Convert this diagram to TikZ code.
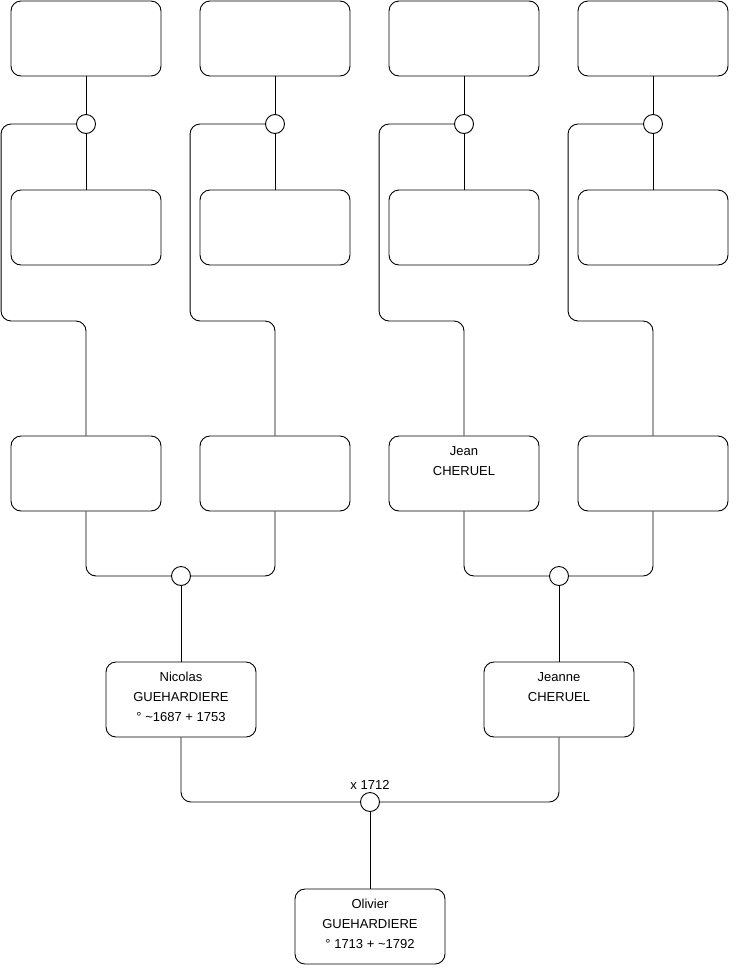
\documentclass[tikz,border=0pt]{standalone}
\usepackage{fontspec}
\setmainfont{Liberation Sans}
\usetikzlibrary{positioning}

% text lines set at the top of a person box
\newcommand{\toplines}[1]{\parbox[c][75pt][t]{146pt}{\centering\rule{0pt}{19.5pt}#1}}

\begin{document}
\begin{tikzpicture}[
    x=1pt, y=-1pt,
    person/.style={rectangle, draw, rounded corners=10pt, line width=0.9pt, minimum width=150pt, minimum height=75pt, inner sep=0pt, align=center, font=\fontsize{13}{20}\selectfont},
    union/.style={circle, draw, fill=white, line width=0.9pt, minimum size=19pt, inner sep=0pt},
    link/.style={draw, line width=0.9pt, rounded corners=10pt},
    date/.style={font=\fontsize{13}{15}\selectfont, inner sep=2pt},
]
    \useasboundingbox (0,0) rectangle (740,975);

    % Top row (great-grandparents)
    \node[person] (t1) at (86, 38.5) {};
    \node[person] (t2) at (275, 38.5) {};
    \node[person] (t3) at (464, 38.5) {};
    \node[person] (t4) at (653, 38.5) {};

    % Unions of the top couples
    \node[union] (c1) at (86, 124) {};
    \node[union] (c2) at (275, 124) {};
    \node[union] (c3) at (464, 124) {};
    \node[union] (c4) at (653, 124) {};

    % Second row
    \node[person] (s1) at (86, 227.5) {};
    \node[person] (s2) at (275, 227.5) {};
    \node[person] (s3) at (464, 227.5) {};
    \node[person] (s4) at (653, 227.5) {};

    % Third row (grandparents)
    \node[person] (r1) at (86, 473.5) {};
    \node[person] (r2) at (275, 473.5) {};
    \node[person] (r3) at (464, 473.5) {\toplines{Jean\\CHERUEL}};
    \node[person] (r4) at (653, 473.5) {};

    % Unions of the grandparents
    \node[union] (m1) at (181, 576) {};
    \node[union] (m2) at (559, 576) {};

    % Parents
    \node[person] (nicolas) at (181, 699.5) {\toplines{Nicolas\\GUEHARDIERE\\° \textasciitilde1687 + 1753}};
    \node[person] (jeanne) at (559, 699.5) {\toplines{Jeanne\\CHERUEL}};

    % Marriage and child
    \node[union, label={[date]above:x 1712}] (m3) at (370, 802) {};
    \node[person] (olivier) at (370, 926.5) {\toplines{Olivier\\GUEHARDIERE\\° 1713 + \textasciitilde1792}};

    % Top couples to their children
    \foreach \i in {1,...,4} {
        \draw[link] (t\i.south) -- (c\i.north);
        \draw[link] (c\i.south) -- (s\i.north);
        \draw[link] (c\i.west) -| ++(-75,197) -| (r\i.north);
    }

    % Grandparents to parents
    \draw[link] (r1.south) |- (m1.west);
    \draw[link] (r2.south) |- (m1.east);
    \draw[link] (m1.south) -- (nicolas.north);
    \draw[link] (r3.south) |- (m2.west);
    \draw[link] (r4.south) |- (m2.east);
    \draw[link] (m2.south) -- (jeanne.north);

    % Parents to child
    \draw[link] (nicolas.south) |- (m3.west);
    \draw[link] (jeanne.south) |- (m3.east);
    \draw[link] (m3.south) -- (olivier.north);
\end{tikzpicture}
\end{document}
